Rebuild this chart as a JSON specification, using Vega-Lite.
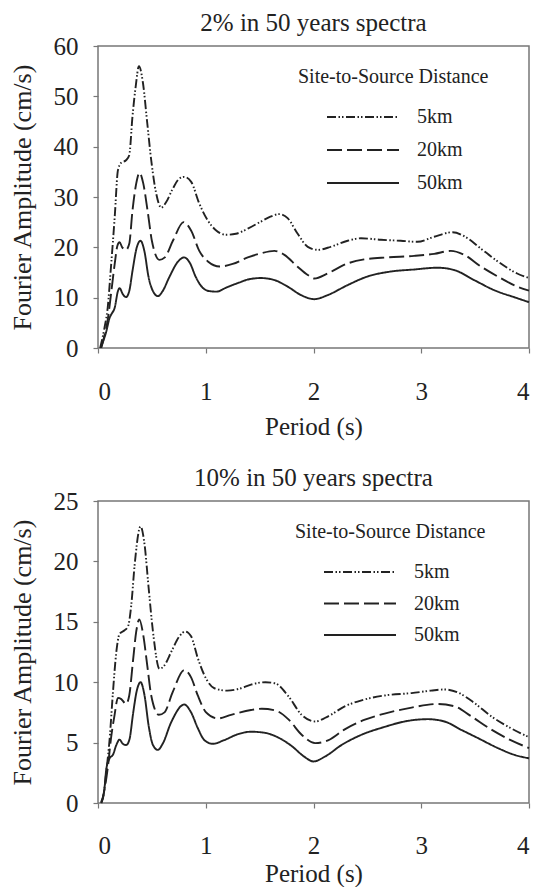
{
  "$schema": "https://vega.github.io/schema/vega-lite/v6.json",
  "padding": {"left": 8, "top": 10, "right": 0, "bottom": 0},
  "background": "white",
  "config": {
    "font": "Liberation Serif",
    "view": {"stroke": "#777", "strokeWidth": 1.5},
    "axis": {"domain": false, "grid": false, "tickColor": "#777", "tickSize": 5, "tickWidth": 1.2, "labelFont": "Liberation Serif", "labelFontSize": 25, "labelColor": "#222", "titleFont": "Liberation Serif", "titleFontSize": 25, "titleFontWeight": "normal", "titleColor": "#222"},
    "axisY": {"titleFontSize": 26},
    "title": {"font": "Liberation Serif", "fontSize": 25, "fontWeight": "normal", "color": "#222", "offset": -2},
    "legend": {"symbolType": "M-9,0H9", "symbolSize": 64, "symbolStrokeWidth": 2.2, "symbolStrokeColor": "#222", "labelFont": "Liberation Serif", "labelFontSize": 20, "labelColor": "#222", "titleFont": "Liberation Serif", "titleFontSize": 20, "titleFontWeight": "normal", "titleColor": "#222", "titleLimit": 400, "labelOffset": 44, "symbolOffset": 55, "rowPadding": 13, "titlePadding": 20, "padding": 0}
  },
  "datasets": {
    "top": [
      {"d":"5km","t":0.02,"a":0},{"d":"5km","t":0.06,"a":4},{"d":"5km","t":0.09,"a":8},{"d":"5km","t":0.12,"a":16},{"d":"5km","t":0.155,"a":26},{"d":"5km","t":0.185,"a":35.3},{"d":"5km","t":0.215,"a":36.8},{"d":"5km","t":0.26,"a":37.3},{"d":"5km","t":0.29,"a":38.3},{"d":"5km","t":0.32,"a":46},{"d":"5km","t":0.35,"a":52},{"d":"5km","t":0.38,"a":56},{"d":"5km","t":0.417,"a":52.7},{"d":"5km","t":0.457,"a":44.7},{"d":"5km","t":0.494,"a":37.3},{"d":"5km","t":0.54,"a":30.7},{"d":"5km","t":0.587,"a":27.9},{"d":"5km","t":0.633,"a":29},{"d":"5km","t":0.695,"a":31.7},{"d":"5km","t":0.757,"a":33.7},{"d":"5km","t":0.8,"a":34},{"d":"5km","t":0.865,"a":33},{"d":"5km","t":0.94,"a":28.7},{"d":"5km","t":1.02,"a":25.3},{"d":"5km","t":1.1,"a":23.3},{"d":"5km","t":1.19,"a":22.5},{"d":"5km","t":1.28,"a":22.7},{"d":"5km","t":1.39,"a":23.7},{"d":"5km","t":1.51,"a":25.1},{"d":"5km","t":1.6,"a":26.1},{"d":"5km","t":1.684,"a":26.6},{"d":"5km","t":1.76,"a":25.8},{"d":"5km","t":1.85,"a":22.8},{"d":"5km","t":1.947,"a":20.1},{"d":"5km","t":2.04,"a":19.5},{"d":"5km","t":2.16,"a":20.1},{"d":"5km","t":2.317,"a":21.3},{"d":"5km","t":2.44,"a":21.8},{"d":"5km","t":2.626,"a":21.5},{"d":"5km","t":2.81,"a":21.3},{"d":"5km","t":2.965,"a":21.1},{"d":"5km","t":3.12,"a":22.1},{"d":"5km","t":3.29,"a":23},{"d":"5km","t":3.43,"a":21.8},{"d":"5km","t":3.55,"a":19.8},{"d":"5km","t":3.71,"a":17.2},{"d":"5km","t":3.89,"a":14.8},{"d":"5km","t":4.0,"a":13.9},
      {"d":"20km","t":0.03,"a":0},{"d":"20km","t":0.046,"a":1.3},{"d":"20km","t":0.093,"a":6},{"d":"20km","t":0.124,"a":11.3},{"d":"20km","t":0.155,"a":16.7},{"d":"20km","t":0.18,"a":20.3},{"d":"20km","t":0.2,"a":21},{"d":"20km","t":0.225,"a":20},{"d":"20km","t":0.26,"a":19.5},{"d":"20km","t":0.29,"a":20.7},{"d":"20km","t":0.32,"a":27.3},{"d":"20km","t":0.355,"a":32.7},{"d":"20km","t":0.386,"a":34.8},{"d":"20km","t":0.42,"a":32.7},{"d":"20km","t":0.46,"a":27.3},{"d":"20km","t":0.5,"a":21.3},{"d":"20km","t":0.57,"a":17.5},{"d":"20km","t":0.62,"a":18},{"d":"20km","t":0.695,"a":21.3},{"d":"20km","t":0.794,"a":25},{"d":"20km","t":0.865,"a":23.3},{"d":"20km","t":0.94,"a":19.3},{"d":"20km","t":1.02,"a":17.2},{"d":"20km","t":1.13,"a":16.2},{"d":"20km","t":1.25,"a":16.7},{"d":"20km","t":1.39,"a":18},{"d":"20km","t":1.51,"a":18.8},{"d":"20km","t":1.637,"a":19.3},{"d":"20km","t":1.73,"a":18.5},{"d":"20km","t":1.85,"a":16.2},{"d":"20km","t":1.947,"a":14.5},{"d":"20km","t":2.008,"a":13.8},{"d":"20km","t":2.13,"a":14.8},{"d":"20km","t":2.317,"a":16.8},{"d":"20km","t":2.47,"a":17.6},{"d":"20km","t":2.687,"a":18},{"d":"20km","t":2.934,"a":18.3},{"d":"20km","t":3.12,"a":18.7},{"d":"20km","t":3.275,"a":19.3},{"d":"20km","t":3.4,"a":18.5},{"d":"20km","t":3.553,"a":16.2},{"d":"20km","t":3.71,"a":14.2},{"d":"20km","t":3.89,"a":12.2},{"d":"20km","t":4.0,"a":11.4},
      {"d":"50km","t":0.03,"a":0.3},{"d":"50km","t":0.077,"a":3.3},{"d":"50km","t":0.108,"a":6},{"d":"50km","t":0.124,"a":6.7},{"d":"50km","t":0.155,"a":8},{"d":"50km","t":0.185,"a":11.3},{"d":"50km","t":0.2,"a":11.9},{"d":"50km","t":0.23,"a":10.7},{"d":"50km","t":0.26,"a":10.1},{"d":"50km","t":0.29,"a":11.3},{"d":"50km","t":0.32,"a":15.3},{"d":"50km","t":0.36,"a":20},{"d":"50km","t":0.395,"a":21.3},{"d":"50km","t":0.43,"a":19.3},{"d":"50km","t":0.47,"a":14},{"d":"50km","t":0.51,"a":11.3},{"d":"50km","t":0.556,"a":10.3},{"d":"50km","t":0.6,"a":11.3},{"d":"50km","t":0.66,"a":14},{"d":"50km","t":0.74,"a":17.1},{"d":"50km","t":0.8,"a":18},{"d":"50km","t":0.85,"a":17},{"d":"50km","t":0.91,"a":14},{"d":"50km","t":0.97,"a":12},{"d":"50km","t":1.035,"a":11.3},{"d":"50km","t":1.1,"a":11.2},{"d":"50km","t":1.19,"a":12},{"d":"50km","t":1.31,"a":13},{"d":"50km","t":1.39,"a":13.6},{"d":"50km","t":1.51,"a":13.9},{"d":"50km","t":1.637,"a":13.5},{"d":"50km","t":1.76,"a":12.2},{"d":"50km","t":1.885,"a":10.5},{"d":"50km","t":2.008,"a":9.7},{"d":"50km","t":2.13,"a":10.5},{"d":"50km","t":2.317,"a":12.5},{"d":"50km","t":2.5,"a":14.2},{"d":"50km","t":2.72,"a":15.2},{"d":"50km","t":2.934,"a":15.6},{"d":"50km","t":3.15,"a":15.95},{"d":"50km","t":3.305,"a":15.5},{"d":"50km","t":3.49,"a":13.5},{"d":"50km","t":3.676,"a":11.5},{"d":"50km","t":3.89,"a":9.9},{"d":"50km","t":4.0,"a":9.1}
    ],
    "bottom": [
      {"d":"5km","t":0.03,"a":0},{"d":"5km","t":0.046,"a":0.4},{"d":"5km","t":0.077,"a":2.6},{"d":"5km","t":0.108,"a":5.3},{"d":"5km","t":0.139,"a":9.2},{"d":"5km","t":0.17,"a":12.5},{"d":"5km","t":0.2,"a":14},{"d":"5km","t":0.247,"a":14.3},{"d":"5km","t":0.278,"a":14.6},{"d":"5km","t":0.309,"a":16.4},{"d":"5km","t":0.34,"a":19.7},{"d":"5km","t":0.395,"a":22.9},{"d":"5km","t":0.432,"a":21.4},{"d":"5km","t":0.47,"a":17.8},{"d":"5km","t":0.51,"a":14.2},{"d":"5km","t":0.571,"a":11.1},{"d":"5km","t":0.617,"a":11.4},{"d":"5km","t":0.679,"a":12.5},{"d":"5km","t":0.756,"a":13.8},{"d":"5km","t":0.81,"a":14.2},{"d":"5km","t":0.864,"a":13.8},{"d":"5km","t":0.926,"a":12},{"d":"5km","t":1.003,"a":10.3},{"d":"5km","t":1.08,"a":9.5},{"d":"5km","t":1.2,"a":9.3},{"d":"5km","t":1.327,"a":9.5},{"d":"5km","t":1.42,"a":9.8},{"d":"5km","t":1.554,"a":10},{"d":"5km","t":1.646,"a":9.9},{"d":"5km","t":1.77,"a":8.8},{"d":"5km","t":1.89,"a":7.3},{"d":"5km","t":2.015,"a":6.75},{"d":"5km","t":2.14,"a":7.2},{"d":"5km","t":2.29,"a":8},{"d":"5km","t":2.446,"a":8.5},{"d":"5km","t":2.66,"a":8.9},{"d":"5km","t":2.91,"a":9.1},{"d":"5km","t":3.09,"a":9.3},{"d":"5km","t":3.215,"a":9.4},{"d":"5km","t":3.34,"a":9.15},{"d":"5km","t":3.49,"a":8.3},{"d":"5km","t":3.646,"a":7.2},{"d":"5km","t":3.83,"a":6.2},{"d":"5km","t":4.0,"a":5.45},
      {"d":"20km","t":0.03,"a":0},{"d":"20km","t":0.046,"a":0.5},{"d":"20km","t":0.093,"a":3.1},{"d":"20km","t":0.12,"a":5.3},{"d":"20km","t":0.154,"a":7.3},{"d":"20km","t":0.185,"a":8.7},{"d":"20km","t":0.216,"a":8.6},{"d":"20km","t":0.26,"a":8.2},{"d":"20km","t":0.29,"a":8.9},{"d":"20km","t":0.324,"a":11.7},{"d":"20km","t":0.355,"a":14.2},{"d":"20km","t":0.383,"a":15.2},{"d":"20km","t":0.42,"a":13.9},{"d":"20km","t":0.457,"a":11.4},{"d":"20km","t":0.494,"a":8.9},{"d":"20km","t":0.565,"a":7.3},{"d":"20km","t":0.617,"a":7.5},{"d":"20km","t":0.694,"a":9.2},{"d":"20km","t":0.8,"a":11},{"d":"20km","t":0.864,"a":10.4},{"d":"20km","t":0.926,"a":8.9},{"d":"20km","t":1.003,"a":7.5},{"d":"20km","t":1.11,"a":7},{"d":"20km","t":1.235,"a":7.3},{"d":"20km","t":1.42,"a":7.7},{"d":"20km","t":1.52,"a":7.8},{"d":"20km","t":1.646,"a":7.66},{"d":"20km","t":1.77,"a":6.9},{"d":"20km","t":1.89,"a":5.65},{"d":"20km","t":2.015,"a":4.96},{"d":"20km","t":2.14,"a":5.2},{"d":"20km","t":2.29,"a":6.1},{"d":"20km","t":2.477,"a":6.9},{"d":"20km","t":2.66,"a":7.4},{"d":"20km","t":2.91,"a":7.9},{"d":"20km","t":3.15,"a":8.2},{"d":"20km","t":3.31,"a":8},{"d":"20km","t":3.46,"a":7.2},{"d":"20km","t":3.646,"a":6.1},{"d":"20km","t":3.83,"a":5.2},{"d":"20km","t":4.0,"a":4.55},
      {"d":"50km","t":0.03,"a":0.1},{"d":"50km","t":0.06,"a":1.2},{"d":"50km","t":0.077,"a":2.8},{"d":"50km","t":0.108,"a":3.7},{"d":"50km","t":0.139,"a":4},{"d":"50km","t":0.17,"a":4.8},{"d":"50km","t":0.2,"a":5.25},{"d":"50km","t":0.23,"a":4.9},{"d":"50km","t":0.262,"a":4.8},{"d":"50km","t":0.293,"a":5.3},{"d":"50km","t":0.324,"a":7.3},{"d":"50km","t":0.36,"a":9.3},{"d":"50km","t":0.395,"a":10},{"d":"50km","t":0.432,"a":8.9},{"d":"50km","t":0.47,"a":6.4},{"d":"50km","t":0.51,"a":4.8},{"d":"50km","t":0.556,"a":4.4},{"d":"50km","t":0.6,"a":4.9},{"d":"50km","t":0.68,"a":6.7},{"d":"50km","t":0.8,"a":8.15},{"d":"50km","t":0.864,"a":7.5},{"d":"50km","t":0.926,"a":6.2},{"d":"50km","t":0.988,"a":5.2},{"d":"50km","t":1.065,"a":4.9},{"d":"50km","t":1.17,"a":5.2},{"d":"50km","t":1.3,"a":5.7},{"d":"50km","t":1.42,"a":5.9},{"d":"50km","t":1.554,"a":5.8},{"d":"50km","t":1.677,"a":5.4},{"d":"50km","t":1.8,"a":4.7},{"d":"50km","t":1.91,"a":3.86},{"d":"50km","t":2.0,"a":3.44},{"d":"50km","t":2.11,"a":3.86},{"d":"50km","t":2.26,"a":4.8},{"d":"50km","t":2.446,"a":5.65},{"d":"50km","t":2.66,"a":6.3},{"d":"50km","t":2.846,"a":6.75},{"d":"50km","t":3.06,"a":6.94},{"d":"50km","t":3.215,"a":6.75},{"d":"50km","t":3.37,"a":6.06},{"d":"50km","t":3.52,"a":5.4},{"d":"50km","t":3.71,"a":4.55},{"d":"50km","t":3.86,"a":4},{"d":"50km","t":4.0,"a":3.7}
    ]
  },
  "spacing": 153,
  "bounds": "flush",
  "resolve": {"scale": {"strokeDash": "independent"}, "legend": {"strokeDash": "independent"}},
  "vconcat": [
    {
      "title": {"text": "2% in 50 years spectra"},
      "width": 431,
      "height": 302,
      "data": {"name": "top"},
      "mark": {"type": "line", "interpolate": "monotone", "color": "#222", "strokeWidth": 1.9},
      "encoding": {
        "x": {"field": "t", "type": "quantitative", "scale": {"domain": [0, 4], "nice": false}, "axis": {"values": [0, 1, 2, 3, 4], "title": "Period (s)", "labelPadding": 26, "titlePadding": 10}},
        "y": {"field": "a", "type": "quantitative", "scale": {"domain": [0, 60], "nice": false}, "axis": {"values": [0, 10, 20, 30, 40, 50, 60], "title": "Fourier Amplitude (cm/s)", "labelPadding": 15, "titlePadding": 18}},
        "strokeDash": {"field": "d", "type": "nominal", "scale": {"domain": ["5km", "20km", "50km"], "range": [[9, 2.5, 1.5, 2, 1.5, 2.5], [15, 5], [1, 0]]}, "legend": {"title": "Site-to-Source Distance", "orient": "none", "legendX": 200, "legendY": 21, "symbolType": "M-9,0H9"}}
      }
    },
    {
      "title": {"text": "10% in 50 years spectra"},
      "width": 431,
      "height": 302,
      "data": {"name": "bottom"},
      "mark": {"type": "line", "interpolate": "monotone", "color": "#222", "strokeWidth": 1.9},
      "encoding": {
        "x": {"field": "t", "type": "quantitative", "scale": {"domain": [0, 4], "nice": false}, "axis": {"values": [0, 1, 2, 3, 4], "title": "Period (s)", "labelPadding": 25, "titlePadding": 3}},
        "y": {"field": "a", "type": "quantitative", "scale": {"domain": [0, 25], "nice": false}, "axis": {"values": [0, 5, 10, 15, 20, 25], "title": "Fourier Amplitude (cm/s)", "labelPadding": 15, "titlePadding": 18}},
        "strokeDash": {"field": "d", "type": "nominal", "scale": {"domain": ["5km", "20km", "50km"], "range": [[9, 2.5, 1.5, 2, 1.5, 2.5], [15, 5], [1, 0]]}, "legend": {"title": "Site-to-Source Distance", "orient": "none", "legendX": 197, "legendY": 21, "rowPadding": 11.5, "symbolType": "M-9,0H9"}}
      }
    }
  ]
}
